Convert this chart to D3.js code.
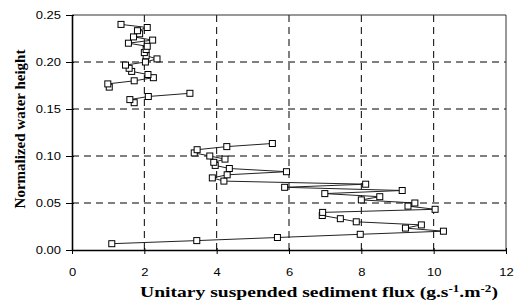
<!DOCTYPE html>
<html lang="en">
<head>
    <meta charset="UTF-8">
    <title>Unitary suspended sediment flux profile</title>
    <style>
        body { margin: 0; background: #fff; }
        #chart { display: block; }
        .tick text { font-family: "Liberation Sans", Arial, sans-serif; font-size: 11px; fill: #000; }
        .title { font-family: "Liberation Serif", "Times New Roman", serif; font-weight: bold; font-size: 15px; fill: #000; }
    </style>
</head>
<body>
    <svg id="chart" width="515" height="304"></svg>

    <script src="https://d3js.org/d3.v7.min.js"></script>
    <script>
        // normalized water height of each measurement (null flux = gap in profile)
        const heights = [
            0.0067, 0.0100, 0.0133, 0.0167, 0.0200, 0.0233, 0.0267, 0.0300, 0.0333, 0.0367,
            0.0400, 0.0433, 0.0467, 0.0500, 0.0533, 0.0567, 0.0600, 0.0633, 0.0667, 0.0700,
            0.0733, 0.0767, 0.0800, 0.0833, 0.0867, 0.0900, 0.0933, 0.0967, 0.1000, 0.1033,
            0.1067, 0.1100, 0.1133, 0.1350,
            0.1567, 0.1600, 0.1633, 0.1667, 0.1700,
            0.1733, 0.1767, 0.1800, 0.1833, 0.1867, 0.1900, 0.1933, 0.1967, 0.2000, 0.2033,
            0.2067, 0.2100, 0.2133, 0.2167, 0.2200, 0.2233, 0.2267, 0.2300, 0.2333, 0.2367,
            0.2400
        ];
        // unitary suspended sediment flux (g.s-1.m-2)
        const flux = [
            1.10, 3.45, 5.68, 7.97, 10.27, 9.22, 9.66, 7.86, 7.42, 6.92,
            6.93, 10.04, 9.29, 9.48, 8.00, 8.51, 6.99, 9.13, 5.88, 8.12,
            4.20, 3.88, 4.29, 5.93, 4.35, 3.96, 3.92, 4.23, 3.81, 3.38,
            3.46, 4.28, 5.54, null,
            1.72, 1.60, 2.11, 3.26, null,
            1.03, 0.99, 1.72, 2.25, 2.10, 1.65, 1.58, 1.48, 2.03, 2.35,
            2.05, 2.00, 2.05, 2.08, 1.56, 2.23, 1.70, 1.87, 1.81, 2.08,
            1.355
        ];
        const xTicks = [0, 2, 4, 6, 8, 10, 12];
        const yTicks = [0, 0.05, 0.10, 0.15, 0.20, 0.25];

        const data = heights.map((h, i) => ({ h, f: flux[i] }));

        const margin = { top: 15, right: 9, bottom: 54, left: 72 };
        const width = 515, height = 304;

        const svg = d3.select('#chart');

        const x = d3.scaleLinear().domain([0, 12]).range([margin.left, width - margin.right]);
        const y = d3.scaleLinear().domain([0, 0.25]).range([height - margin.bottom, margin.top]);

        // dashed grid
        const grid = svg.append('g')
            .attr('stroke', '#000')
            .attr('stroke-width', 1)
            .attr('stroke-dasharray', '7,5');
        grid.selectAll('.vg').data(xTicks.slice(1, -1)).join('line')
            .attr('x1', d => x(d)).attr('x2', d => x(d))
            .attr('y1', y(0)).attr('y2', y(0.25));
        grid.selectAll('.hg').data(yTicks.slice(1, -1)).join('line')
            .attr('x1', x(0)).attr('x2', x(12))
            .attr('y1', d => y(d)).attr('y2', d => y(d));

        // top and right frame
        svg.append('path')
            .attr('d', `M${x(0)},${y(0.25)}H${x(12)}V${y(0)}`)
            .attr('fill', 'none')
            .attr('stroke', '#333')
            .attr('stroke-width', 1);

        // axes
        const xAxis = svg.append('g')
            .attr('transform', `translate(0,${y(0)})`)
            .call(d3.axisBottom(x).tickValues(xTicks).tickFormat(d3.format('d'))
                .tickSizeInner(4).tickSizeOuter(0).tickPadding(14));
        const yAxis = svg.append('g')
            .attr('transform', `translate(${x(0)},0)`)
            .call(d3.axisLeft(y).tickValues(yTicks).tickFormat(d3.format('.2f'))
                .tickSizeInner(6).tickSizeOuter(0).tickPadding(5));

        [xAxis, yAxis].forEach(g => {
            g.select('.domain').attr('stroke', '#000').attr('stroke-width', 1.6);
            g.selectAll('.tick line').attr('stroke', '#000').attr('stroke-width', 1);
            // the source glyphs are a little wider than the font's
            g.selectAll('.tick text').each(function () {
                const w = this.getComputedTextLength();
                d3.select(this).attr('textLength', w * 1.18).attr('lengthAdjust', 'spacingAndGlyphs');
            });
        });
        // ticks cross the axis slightly
        xAxis.selectAll('.tick line').attr('y1', -2);
        yAxis.selectAll('.tick line').attr('x1', 2);

        // profile line
        const line = d3.line()
            .defined(d => d.f !== null)
            .x(d => x(d.f))
            .y(d => y(d.h));

        svg.append('path')
            .datum(data)
            .attr('fill', 'none')
            .attr('stroke', '#222')
            .attr('stroke-width', 1)
            .attr('d', line);

        // square markers
        const s = 6;
        svg.append('g').selectAll('rect')
            .data(data.filter(d => d.f !== null))
            .join('rect')
            .attr('x', d => x(d.f) - s / 2)
            .attr('y', d => y(d.h) - s / 2)
            .attr('width', s)
            .attr('height', s)
            .attr('fill', '#fff')
            .attr('stroke', '#000')
            .attr('stroke-width', 1);

        // axis titles
        const xg = svg.append('g');
        const xt = xg.append('text')
            .attr('class', 'title')
            .attr('font-size', 15.5)
            .attr('text-anchor', 'middle');
        xt.append('tspan').text('Unitary suspended sediment flux (g.s');
        xt.append('tspan').attr('dy', -5).attr('font-size', 10).text('-1');
        xt.append('tspan').attr('dy', 5).text('.m');
        xt.append('tspan').attr('dy', -5).attr('font-size', 10).text('-2');
        xt.append('tspan').attr('dy', 5).text(')');
        // stretch horizontally to the source's width
        const k = 358 / xt.node().getBBox().width;
        xg.attr('transform', `translate(319,297) scale(${k},1)`);

        svg.append('text')
            .attr('class', 'title')
            .attr('transform', 'translate(25,129) rotate(-90)')
            .attr('text-anchor', 'middle')
            .text('Normalized water height');
    </script>
</body>
</html>
